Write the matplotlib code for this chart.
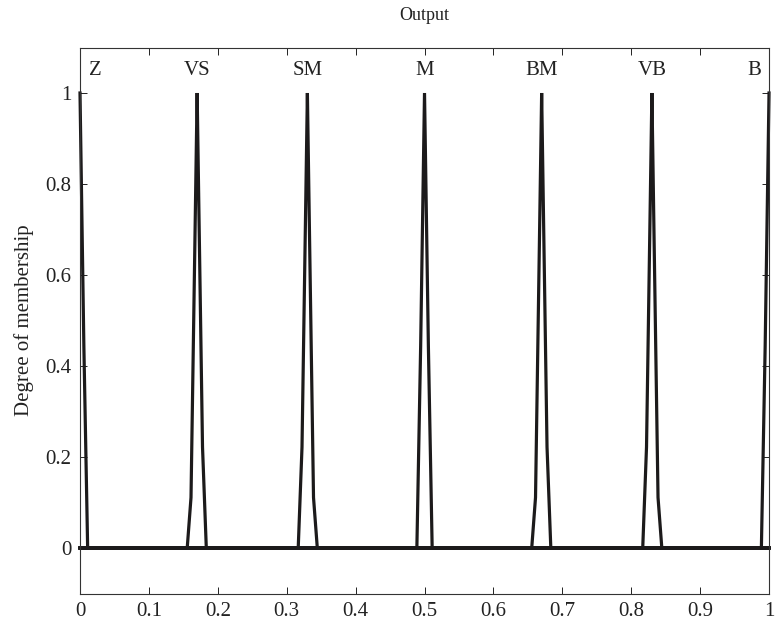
import matplotlib
matplotlib.use("Agg")
import matplotlib.pyplot as plt
import matplotlib.ticker as ticker

plt.rcParams['font.family'] = ['Liberation Serif', 'DejaVu Serif']

# Membership functions of the output, as drawn (sampled points, value 0 elsewhere)
mf_names = ["Z", "VS", "SM", "M", "BM", "VB", "B"]
mf_x = [
    [0.0, 0.0056, 0.0111, 1.0],
    [0.0, 0.1556, 0.1611, 0.1667, 0.17, 0.1722, 0.1778, 0.1833, 1.0],
    [0.0, 0.3167, 0.3222, 0.3278, 0.33, 0.3333, 0.3389, 0.3444, 1.0],
    [0.0, 0.4889, 0.4944, 0.5, 0.5056, 0.5111, 1.0],
    [0.0, 0.6556, 0.6611, 0.6667, 0.67, 0.6722, 0.6778, 0.6833, 1.0],
    [0.0, 0.8167, 0.8222, 0.8278, 0.83, 0.8333, 0.8389, 0.8444, 1.0],
    [0.0, 0.9889, 0.9944, 1.0],
]
mf_y = [
    [1.0, 0.444, 0.0, 0.0],
    [0.0, 0.0, 0.111, 0.667, 1.0, 0.778, 0.222, 0.0, 0.0],
    [0.0, 0.0, 0.222, 0.778, 1.0, 0.667, 0.111, 0.0, 0.0],
    [0.0, 0.0, 0.444, 1.0, 0.444, 0.0, 0.0],
    [0.0, 0.0, 0.111, 0.667, 1.0, 0.778, 0.222, 0.0, 0.0],
    [0.0, 0.0, 0.222, 0.778, 1.0, 0.667, 0.111, 0.0, 0.0],
    [0.0, 0.0, 0.444, 1.0],
]
# label anchor (x) for each name
label_x = [0.013, 0.17, 0.33, 0.5, 0.67, 0.83, 0.988]
label_ha = ["left", "center", "center", "center", "center", "center", "right"]

x_ticks = [0, 0.1, 0.2, 0.3, 0.4, 0.5, 0.6, 0.7, 0.8, 0.9, 1]
y_ticks = [0, 0.2, 0.4, 0.6, 0.8, 1]

fig = plt.figure(figsize=(7.79, 6.25), dpi=100)
ax = fig.add_axes([0.1027, 0.0504, 0.8845, 0.8736])

for xs, ys in zip(mf_x, mf_y):
    ax.plot(xs, ys, color="#1c1a1b", linewidth=2.3, solid_joinstyle="miter", clip_on=False)

for name, lx, ha in zip(mf_names, label_x, label_ha):
    ax.text(lx, 1.05, name, ha=ha, va="center", fontsize=15, color="#222222")

ax.set_xlim(0, 1)
ax.set_ylim(-0.1, 1.1)
ax.set_xticks(x_ticks)
ax.set_yticks(y_ticks)

# MATLAB-like tick labels: 0, 0.1, ..., 1
fmt = ticker.FuncFormatter(lambda v, p: "%g" % round(v, 2))
ax.xaxis.set_major_formatter(fmt)
ax.yaxis.set_major_formatter(fmt)

ax.tick_params(direction="in", length=5, width=0.7, labelsize=15, colors="#222222",
               top=True, right=True, pad=6)
for s in ax.spines.values():
    s.set_linewidth(0.8)
    s.set_color("#333333")

ax.set_title("Output", fontsize=13, pad=20, color="#222222")
ax.set_ylabel("Degree of membership", fontsize=15, color="#222222", labelpad=8)

fig.savefig("out.png", dpi=100)
